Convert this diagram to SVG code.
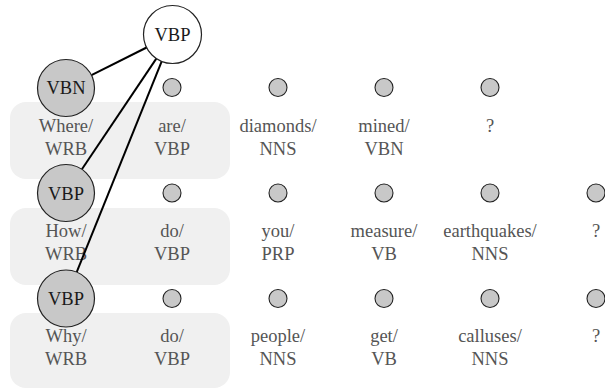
<svg xmlns="http://www.w3.org/2000/svg" width="605" height="389" viewBox="0 0 605 389">
<style>
.bg{fill:#f0f0f0;stroke:none}
.w{fill:#555}
.lab{fill:#1a1a1a}
.big{fill:#c8c8c8;stroke:#222;stroke-width:1.2}
.root{fill:#fff;stroke:#222;stroke-width:1.2}
.sm{fill:#c8c8c8;stroke:#222;stroke-width:1.1}
.edge{stroke:#000;stroke-width:2;fill:none}
</style>
<g id="backgrounds">
<rect class="bg" x="10" y="102" width="220" height="77" rx="16"/>
<rect class="bg" x="10" y="208" width="220" height="77" rx="16"/>
<rect class="bg" x="10" y="313" width="220" height="75" rx="16"/>
</g>
<g font-family="Liberation Serif" font-size="18.5" text-anchor="middle">
<g id="words-row1">
<text class="w" x="66" y="132">Where/</text><text class="w" x="66" y="155">WRB</text>
<text class="w" x="172" y="132">are/</text><text class="w" x="172" y="155">VBP</text>
<text class="w" x="278" y="132">diamonds/</text><text class="w" x="278" y="155">NNS</text>
<text class="w" x="384" y="132">mined/</text><text class="w" x="384" y="155">VBN</text>
<text class="w" x="490" y="132">?</text>
</g>
<g id="words-row2">
<text class="w" x="66" y="237">How/</text><text class="w" x="66" y="260">WRB</text>
<text class="w" x="172" y="237">do/</text><text class="w" x="172" y="260">VBP</text>
<text class="w" x="278" y="237">you/</text><text class="w" x="278" y="260">PRP</text>
<text class="w" x="384" y="237">measure/</text><text class="w" x="384" y="260">VB</text>
<text class="w" x="490" y="237">earthquakes/</text><text class="w" x="490" y="260">NNS</text>
<text class="w" x="596" y="237">?</text>
</g>
<g id="words-row3">
<text class="w" x="66" y="342">Why/</text><text class="w" x="66" y="365">WRB</text>
<text class="w" x="172" y="342">do/</text><text class="w" x="172" y="365">VBP</text>
<text class="w" x="278" y="342">people/</text><text class="w" x="278" y="365">NNS</text>
<text class="w" x="384" y="342">get/</text><text class="w" x="384" y="365">VB</text>
<text class="w" x="490" y="342">calluses/</text><text class="w" x="490" y="365">NNS</text>
<text class="w" x="596" y="342">?</text>
</g>
</g>
<g id="connectors">
<line class="edge" x1="146.6" y1="47.5" x2="91.5" y2="75.2"/>
<line class="edge" x1="156.3" y1="58.6" x2="81.9" y2="169.3"/>
<line class="edge" x1="161.7" y1="61.4" x2="76.7" y2="272.1"/>
</g>
<g font-family="Liberation Serif" font-size="18.5" text-anchor="middle">
<g id="root-VBP"><circle class="root" cx="172.5" cy="34.5" r="29"/><text class="lab" x="172.5" y="41">VBP</text></g>
<g id="r1-VBN"><circle class="big" cx="66" cy="88" r="28.5"/><text class="lab" x="66" y="94">VBN</text></g>
<g id="r2-VBP"><circle class="big" cx="66" cy="193" r="28.5"/><text class="lab" x="66" y="199.5">VBP</text></g>
<g id="r3-VBP"><circle class="big" cx="66" cy="298.5" r="28.5"/><text class="lab" x="66" y="305">VBP</text></g>
</g>
<g id="r1-dots">
<circle class="sm" cx="172" cy="87.5" r="9"/><circle class="sm" cx="278" cy="87.5" r="9"/><circle class="sm" cx="384" cy="87.5" r="9"/><circle class="sm" cx="490" cy="87.5" r="9"/>
</g>
<g id="r2-dots">
<circle class="sm" cx="172" cy="193" r="9"/><circle class="sm" cx="278" cy="193" r="9"/><circle class="sm" cx="384" cy="193" r="9"/><circle class="sm" cx="490" cy="193" r="9"/><circle class="sm" cx="596" cy="193" r="9"/>
</g>
<g id="r3-dots">
<circle class="sm" cx="172" cy="298.5" r="9"/><circle class="sm" cx="278" cy="298.5" r="9"/><circle class="sm" cx="384" cy="298.5" r="9"/><circle class="sm" cx="490" cy="298.5" r="9"/><circle class="sm" cx="596" cy="298.5" r="9"/>
</g>
</svg>
